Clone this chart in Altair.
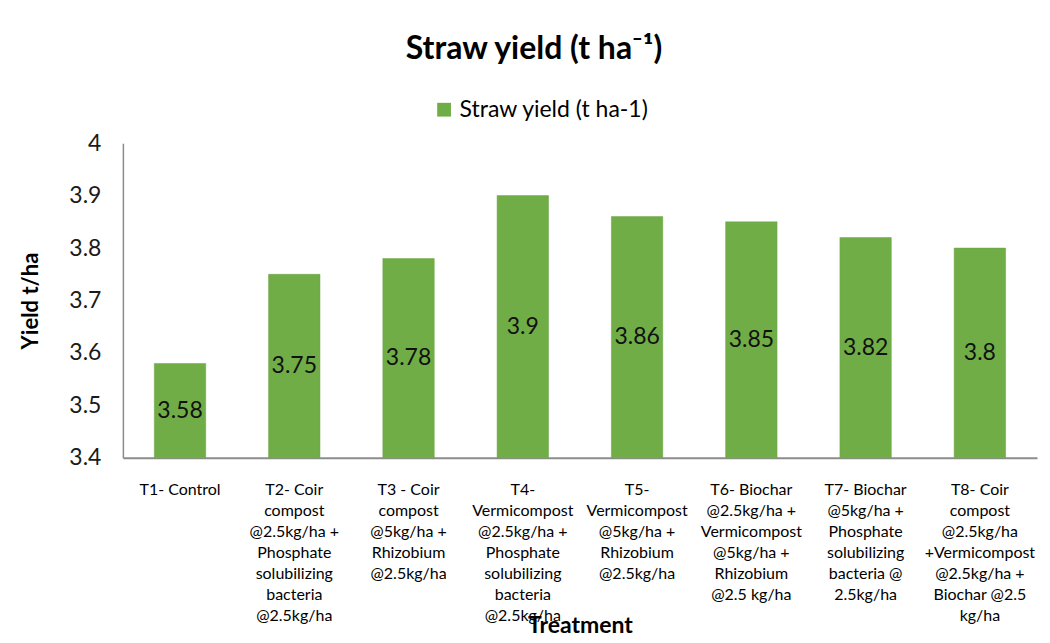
import altair as alt
import pandas as pd

treatments = [
    "T1-  Control",
    "T2- Coir\ncompost\n@2.5kg/ha +\nPhosphate\nsolubilizing\nbacteria\n@2.5kg/ha",
    "T3 - Coir\ncompost\n@5kg/ha +\nRhizobium\n@2.5kg/ha",
    "T4-\nVermicompost\n@2.5kg/ha +\nPhosphate\nsolubilizing\nbacteria\n@2.5kg/ha",
    "T5-\nVermicompost\n@5kg/ha +\nRhizobium\n@2.5kg/ha",
    "T6- Biochar\n@2.5kg/ha +\nVermicompost\n@5kg/ha +\nRhizobium\n@2.5 kg/ha",
    "T7- Biochar\n@5kg/ha +\nPhosphate\nsolubilizing\nbacteria @\n2.5kg/ha",
    "T8- Coir\ncompost\n@2.5kg/ha\n+Vermicompost\n@2.5kg/ha +\nBiochar @2.5\nkg/ha",
]
straw_yield = [3.58, 3.75, 3.78, 3.9, 3.86, 3.85, 3.82, 3.8]
series_name = "Straw yield (t ha-1)"
y_ticks = [3.4, 3.5, 3.6, 3.7, 3.8, 3.9, 4.0]
y_min = 3.4
y_max = 4.0

df = pd.DataFrame({
    "treatment": treatments,
    "value": straw_yield,
    "series": [series_name] * len(treatments),
})

FONT = "Lato"
GREEN = "#70AD47"

x_enc = alt.X(
    "treatment:N",
    sort=None,
    scale=alt.Scale(paddingInner=0.55, paddingOuter=0.275),
    axis=alt.Axis(
        title="Treatment",
        titleFontSize=23,
        titleFontWeight="bold",
        titleFont=FONT,
        titleColor="#000000",
        titleY=168,
        titleBaseline="middle",
        labelExpr="split(datum.label, '\\n')",
        labelAngle=0,
        labelFontSize=16,
        labelFont=FONT,
        labelColor="#000000",
        labelLineHeight=21,
        labelPadding=24,
        labelLimit=300,
        ticks=False,
        domainColor="#8c8c8c",
        domainWidth=2,
    ),
)

base = alt.Chart(df)

bars = base.mark_bar(color=GREEN, stroke="#6aa343", strokeWidth=0.5).encode(
    x=x_enc,
    y=alt.Y(
        "value:Q",
        scale=alt.Scale(domain=[y_min, y_max], zero=False, nice=False),
        axis=alt.Axis(
            title="Yield t/ha",
            titleFontSize=22,
            titleFontWeight="bold",
            titleFont=FONT,
            titleColor="#000000",
            titlePadding=26,
            values=y_ticks,
            format=".1~f",
            labelFontSize=23,
            labelFont=FONT,
            labelColor="#1a1a1a",
            labelPadding=22,
            ticks=False,
            grid=False,
            domainColor="#8c8c8c",
            domainWidth=1.5,
        ),
    ),
    y2=alt.datum(y_min),
    color=alt.Color(
        "series:N",
        scale=alt.Scale(domain=[series_name], range=[GREEN]),
        legend=alt.Legend(
            title=None,
            orient="none",
            legendX=310,
            legendY=-45,
            symbolType="square",
            symbolSize=190,
            symbolStrokeWidth=0,
            labelFontSize=23,
            labelFont=FONT,
            labelColor="#000000",
            labelLimit=400,
        ),
    ),
)

labels = base.transform_calculate(
    mid="(datum.value + 3.4) / 2"
).mark_text(fontSize=23, font=FONT, color="#111111", baseline="middle").encode(
    x=alt.X("treatment:N", sort=None),
    y=alt.Y("mid:Q"),
    text=alt.Text("value:Q"),
)

chart = alt.layer(bars, labels).properties(
    width=915,
    height=315,
    autosize=alt.AutoSizeParams(type="none"),
    padding={"left": 115, "top": 135, "right": 5, "bottom": 180},
    title=alt.TitleParams(
        text="Straw yield (t ha⁻¹)",
        fontSize=32,
        fontWeight="bold",
        font=FONT,
        color="#000000",
        anchor="middle",
        dx=-46,
        offset=32,
    ),
).configure_view(stroke=None)

chart.save("out.html", embed_options={"renderer": "svg", "actions": False})
